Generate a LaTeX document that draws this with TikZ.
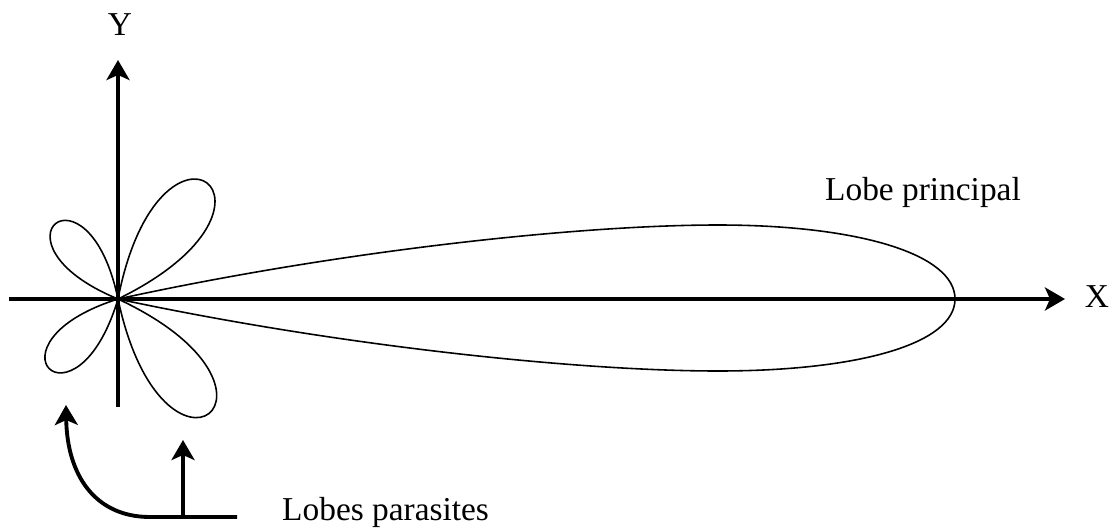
\documentclass[tikz,border=0pt]{standalone}
\usepackage{fontspec}
\setmainfont{Liberation Serif}
\usetikzlibrary{arrows.meta}

\begin{document}
\begin{tikzpicture}[axis/.style={line width=2.2pt,-{Stealth[length=4mm,width=4.6mm,inset=1mm]}},
  lobe/.style={line width=0.9pt},
  every node/.style={font=\fontsize{19}{22}\selectfont}]
  \useasboundingbox (-2.36,-4.64) rectangle (19.96,5.98);

  % axes
  \coordinate (O) at (0,0);
  \coordinate (xl) at (-2.18,0);
  \coordinate (xr) at (18.94,0);
  \coordinate (yb) at (0,-2.16);
  \coordinate (yt) at (0,4.78);
  \draw[axis] (xl) -- (xr);
  \draw[axis] (yb) -- (yt);
  \node (x) at (19.58,0.05) {X};
  \node (y) at (0.04,5.48) {Y};

  % main lobe
  \draw[lobe] (O) .. controls (4.4,0.96) and (9.2,1.48) .. (12,1.48)
    .. controls (14.8,1.48) and (16.74,0.9) .. (16.74,0)
    .. controls (16.74,-0.9) and (14.8,-1.44) .. (12,-1.44)
    .. controls (9.2,-1.44) and (4.4,-0.94) .. (O);
  \node (main) at (16.1,1.98) [anchor=base] {Lobe principal};

  % side lobes
  \draw[lobe,rotate=52.5] (O) .. controls (3.9,1.94) and (3.9,-1.94) .. (O);
  \draw[lobe,rotate=-51.5] (O) .. controls (3.9,1.94) and (3.9,-1.94) .. (O);
  \draw[lobe,rotate=129.7] (O) .. controls (2.61,1.38) and (2.61,-1.38) .. (O);
  \draw[lobe,rotate=225.4] (O) .. controls (2.61,1.38) and (2.61,-1.38) .. (O);

  % pointers
  \node (side) at (3.16,-4.42) [anchor=base west] {Lobes parasites};
  \coordinate (end) at (2.38,-4.36);
  \coordinate (bend) at (0.64,-4.36);
  \coordinate (foot) at (1.3,-4.36);
  \coordinate (p1) at (-1.04,-2.12);
  \coordinate (p2) at (1.3,-2.82);
  \draw[axis] (end) -- (bend) .. controls (-0.46,-4.36) and (-1.02,-3.52) .. (p1);
  \draw[axis] (foot) -- (p2);
\end{tikzpicture}
\end{document}
